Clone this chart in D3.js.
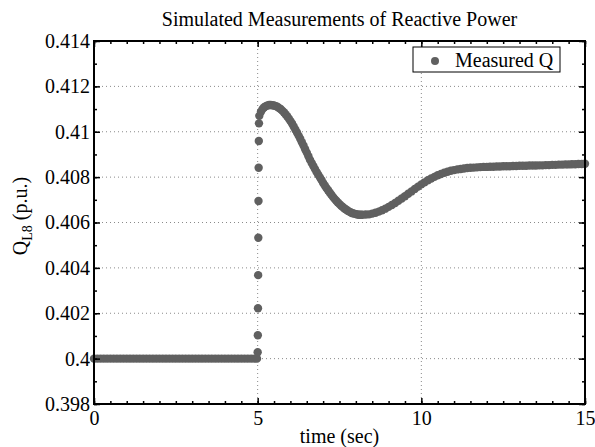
<!DOCTYPE html>
<html>
<head>
<meta charset="utf-8">
<script src="https://cdn.jsdelivr.net/npm/d3@7"></script>
<style>
  body { margin: 0; background: #fff; }
  svg text { font-family: "Liberation Serif", "Times New Roman", serif; }
</style>
</head>
<body>
<svg id="chart" width="595" height="447"></svg>
<script>
const SERIF = '"Liberation Serif", "Times New Roman", serif';

const xTicks = [0, 5, 10, 15];
const xTickLabels = ['0', '5', '10', '15'];
const yTicks = [0.398, 0.4, 0.402, 0.404, 0.406, 0.408, 0.41, 0.412, 0.414];
const yTickLabels = ['0.398', '0.4', '0.402', '0.404', '0.406', '0.408', '0.41', '0.412', '0.414'];
const xGrid = [5, 10];
const yGrid = [0.4, 0.402, 0.404, 0.406, 0.408, 0.41, 0.412];

// before the step: t = 0 .. 4.9, every 0.1 s
const preStart = 0, preStep = 0.1;
const preQ = [
  0.4, 0.4, 0.4, 0.4, 0.4, 0.4, 0.4, 0.4, 0.4, 0.4,
  0.4, 0.4, 0.4, 0.4, 0.4, 0.4, 0.4, 0.4, 0.4, 0.4,
  0.4, 0.4, 0.4, 0.4, 0.4, 0.4, 0.4, 0.4, 0.4, 0.4,
  0.4, 0.4, 0.4, 0.4, 0.4, 0.4, 0.4, 0.4, 0.4, 0.4,
  0.4, 0.4, 0.4, 0.4, 0.4, 0.4, 0.4, 0.4, 0.4, 0.4,
];

// the jump right at t = 5
const jumpT = [4.98, 5.0, 5.005, 5.01, 5.015, 5.02, 5.025, 5.03, 5.035, 5.04];
const jumpQ = [0.4, 0.40028, 0.40103, 0.40222, 0.40368, 0.40533, 0.40695, 0.40841, 0.40959, 0.41037];

// swing: t = 5.05 .. 8.20, every 0.05 s
const swingStart = 5.05, swingStep = 0.05;
const swingQ = [
  0.41070, 0.41088, 0.41100, 0.41108, 0.41113, 0.41116, 0.41118, 0.41118, 0.41117,
  0.41116, 0.41113, 0.41110, 0.41105, 0.41100, 0.41093, 0.41086, 0.41077, 0.41068, 0.41058,
  0.41047, 0.41036, 0.41023, 0.41010, 0.40997, 0.40983, 0.40969, 0.40954, 0.40939, 0.40923,
  0.40908, 0.40892, 0.40876, 0.40862, 0.40849, 0.40836, 0.40823, 0.40811, 0.40799, 0.40787,
  0.40774, 0.40763, 0.40752, 0.40742, 0.40732, 0.40722, 0.40713, 0.40704, 0.40696, 0.40688,
  0.40681, 0.40674, 0.40668, 0.40662, 0.40657, 0.40652, 0.40648, 0.40644, 0.40641, 0.40639,
  0.40637, 0.40635, 0.40634, 0.40634, 0.40634,
];

// recovery: t = 8.3 .. 15.0, every 0.1 s
const tailStart = 8.3, tailStep = 0.1;
const tailQ = [
  0.40635, 0.40636, 0.40639, 0.40643, 0.40648, 0.40654, 0.40661,
  0.40669, 0.40677, 0.40686, 0.40696, 0.40706, 0.40716, 0.40727, 0.40737, 0.40748, 0.40758,
  0.40768, 0.40777, 0.40786, 0.40794, 0.40801, 0.40808, 0.40814, 0.40819, 0.40824, 0.40828,
  0.40831, 0.40834, 0.40836, 0.40838, 0.40840, 0.40841, 0.40842, 0.40843, 0.40844, 0.40845,
  0.40845, 0.40846, 0.40846, 0.40847, 0.40847, 0.40848, 0.40848, 0.40848, 0.40849, 0.40849,
  0.40850, 0.40850, 0.40850, 0.40851, 0.40851, 0.40851, 0.40852, 0.40852, 0.40853, 0.40853,
  0.40854, 0.40854, 0.40855, 0.40855, 0.40856, 0.40856, 0.40857, 0.40857, 0.40858, 0.40858,
  0.40859,
];

const points = [
  ...preQ.map((q, i) => ({ t: preStart + i * preStep, q })),
  ...jumpQ.map((q, i) => ({ t: jumpT[i], q })),
  ...swingQ.map((q, i) => ({ t: swingStart + i * swingStep, q })),
  ...tailQ.map((q, i) => ({ t: tailStart + i * tailStep, q })),
];

const margin = { top: 41, right: 10, bottom: 43, left: 94 };
const width = 595 - margin.left - margin.right;
const height = 447 - margin.top - margin.bottom;

const x = d3.scaleLinear().domain([0, 15]).range([0, width]);
const y = d3.scaleLinear().domain([0.398, 0.414]).range([height, 0]);

const svg = d3.select('#chart');
const g = svg.append('g').attr('transform', `translate(${margin.left},${margin.top})`);

// dotted grid
g.append('g')
  .selectAll('line')
  .data(xGrid)
  .join('line')
  .attr('x1', (d) => x(d))
  .attr('x2', (d) => x(d))
  .attr('y1', 0)
  .attr('y2', height)
  .attr('stroke', '#8a8a8a')
  .attr('stroke-dasharray', '1,3');
g.append('g')
  .selectAll('line')
  .data(yGrid)
  .join('line')
  .attr('x1', 0)
  .attr('x2', width)
  .attr('y1', (d) => y(d))
  .attr('y2', (d) => y(d))
  .attr('stroke', '#8a8a8a')
  .attr('stroke-dasharray', '1,3');

// measured points
g.append('g')
  .selectAll('circle')
  .data(points)
  .join('circle')
  .attr('cx', (d) => x(d.t))
  .attr('cy', (d) => y(d.q))
  .attr('r', 4.2)
  .attr('fill', '#606060');

// ticks on all four sides, pointing inward
const xMinor = d3.range(0, 15.01, 0.5);
const yMinor = d3.range(0.398, 0.4141, 0.001);

const styleAxis = (sel) => {
  sel.attr('font-family', SERIF).attr('font-size', 20);
  sel.select('.domain').remove();
  sel.selectAll('line').attr('stroke', '#000').attr('stroke-width', 1.5);
  sel.selectAll('text')
    .attr('font-family', SERIF)
    .attr('font-size', '20px')
    .attr('fill', '#000');
};

g.append('g').attr('transform', `translate(0,${height})`)
  .call(d3.axisBottom(x).tickValues(xMinor).tickSize(-3).tickFormat(''))
  .call(styleAxis);
g.append('g')
  .call(d3.axisTop(x).tickValues(xMinor).tickSize(-3).tickFormat(''))
  .call(styleAxis);
g.append('g')
  .call(d3.axisLeft(y).tickValues(yMinor).tickSize(-3).tickFormat(''))
  .call(styleAxis);
g.append('g').attr('transform', `translate(${width},0)`)
  .call(d3.axisRight(y).tickValues(yMinor).tickSize(-3).tickFormat(''))
  .call(styleAxis);

g.append('g').attr('transform', `translate(0,${height})`)
  .call(d3.axisBottom(x).tickValues(xTicks).tickSize(-6).tickPadding(7)
    .tickFormat((d, i) => xTickLabels[i]))
  .call(styleAxis);
g.append('g')
  .call(d3.axisTop(x).tickValues(xTicks).tickSize(-6).tickFormat(''))
  .call(styleAxis);
g.append('g')
  .call(d3.axisLeft(y).tickValues(yTicks).tickSize(-6).tickPadding(4)
    .tickFormat((d, i) => yTickLabels[i]))
  .call(styleAxis);
g.append('g').attr('transform', `translate(${width},0)`)
  .call(d3.axisRight(y).tickValues(yTicks).tickSize(-6).tickFormat(''))
  .call(styleAxis);

// box
g.append('rect')
  .attr('width', width)
  .attr('height', height)
  .attr('fill', 'none')
  .attr('stroke', '#000')
  .attr('stroke-width', 2);

// legend
const legend = svg.append('g').attr('transform', 'translate(413,47)');
legend.append('rect')
  .attr('width', 147)
  .attr('height', 25)
  .attr('fill', '#fff')
  .attr('stroke', '#000')
  .attr('stroke-width', 1);
legend.append('circle').attr('cx', 22).attr('cy', 14).attr('r', 4).attr('fill', '#606060');
legend.append('text')
  .attr('x', 42)
  .attr('y', 20)
  .attr('font-size', '20px')
  .text('Measured Q');

// title and axis labels
svg.append('text')
  .attr('x', margin.left + width / 2)
  .attr('y', 26)
  .attr('text-anchor', 'middle')
  .attr('font-size', '20px')
  .text('Simulated Measurements of Reactive Power');

svg.append('text')
  .attr('x', margin.left + width / 2)
  .attr('y', 443)
  .attr('text-anchor', 'middle')
  .attr('font-size', '20px')
  .text('time (sec)');

const yLabel = svg.append('text')
  .attr('transform', 'translate(27,216) rotate(-90)')
  .attr('text-anchor', 'middle')
  .attr('font-size', '20px');
yLabel.append('tspan').text('Q');
yLabel.append('tspan').attr('font-size', '14px').attr('dy', 5).text('L8');
yLabel.append('tspan').attr('dy', -5).text(' (p.u.)');
</script>
</body>
</html>
